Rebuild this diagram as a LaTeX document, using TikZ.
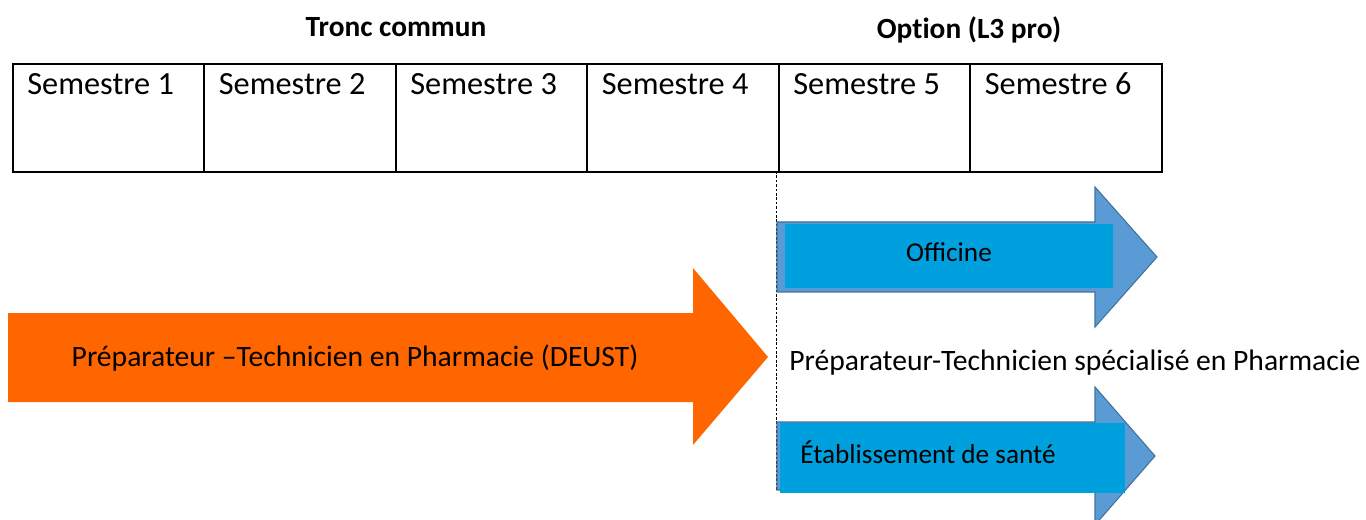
\documentclass[tikz,border=0pt]{standalone}
\usepackage{fontspec}
\setmainfont{Carlito}
\usetikzlibrary{calc}
\definecolor{orangeA}{HTML}{FF6600}
\definecolor{blueA}{HTML}{5B9BD5}
\definecolor{blueB}{HTML}{41719C}
\definecolor{blueC}{HTML}{00A0DE}
\tikzset{
  cell/.style={draw=black, line width=1pt, anchor=north west, inner sep=0pt,
    minimum width=3.83cm, minimum height=2.16cm},
  semlab/.style={anchor=west, inner sep=0pt, font=\fontsize{18.4}{22}\selectfont},
  headlab/.style={inner sep=0pt, font=\bfseries\fontsize{16.7}{20}\selectfont\addfontfeatures{Ligatures=NoCommon}},
  arrlab/.style={inner sep=0pt, font=\fontsize{16.85}{20}\selectfont},
  smalllab/.style={inner sep=0pt, font=\fontsize{15.5}{19}\selectfont},
  bluearrow/.style={fill=blueA, draw=blueB, line width=0.6pt, line join=miter},
  bluebar/.style={fill=blueC, draw=none}
}
\begin{document}
\begin{tikzpicture}[x=0.02cm,y=-0.02cm]
\useasboundingbox (0,0) rectangle (1366,520);
% headers
\node[headlab] (tronc) at (396,27) {Tronc commun};
\node[headlab] (option) at (969,30) {Option (L3 pro)};
% table cells
\foreach \i/\x in {1/12,2/203.5,3/395,4/586.5,5/778,6/969.5}{
  \node[cell] (s\i) at (\x,63) {};
  \node[semlab] (t\i) at ($(s\i.north west)+(15,21)$) {Semestre \i};
}
% dashed separator
\coordinate (dtop) at (776,171);
\coordinate (dbot) at (776,490);
\draw[black, line width=0.5pt, dash pattern=on 1.5pt off 1pt] (dtop) -- (dbot);
% orange arrow
\fill[orangeA] (8,313) -- (693,313) -- (693,268) -- (768,357) -- (693,445) -- (693,402) -- (8,402) -- cycle;
\node[arrlab] (deust) at (355,358) {Préparateur –Technicien en Pharmacie (DEUST)};
% officine arrow
\draw[bluearrow] (777,222) -- (1095,222) -- (1095,187) -- (1157,257) -- (1095,327) -- (1095,292) -- (777,292) -- cycle;
\fill[bluebar] (785,224) rectangle (1113,288);
\node[smalllab] (officine) at (949,252) {Officine};
% middle label
\node[arrlab, anchor=west] (spec) at (789,363) {Préparateur-Technicien spécialisé en Pharmacie};
% etablissement arrow
\draw[bluearrow] (777,422) -- (1095,422) -- (1095,387) -- (1155,456) -- (1095,525) -- (1095,490) -- (777,490) -- cycle;
\fill[bluebar] (780,423) rectangle (1125,493);
\node[smalllab, anchor=west] (etab) at (800,452) {Établissement de santé};
\end{tikzpicture}
\end{document}
